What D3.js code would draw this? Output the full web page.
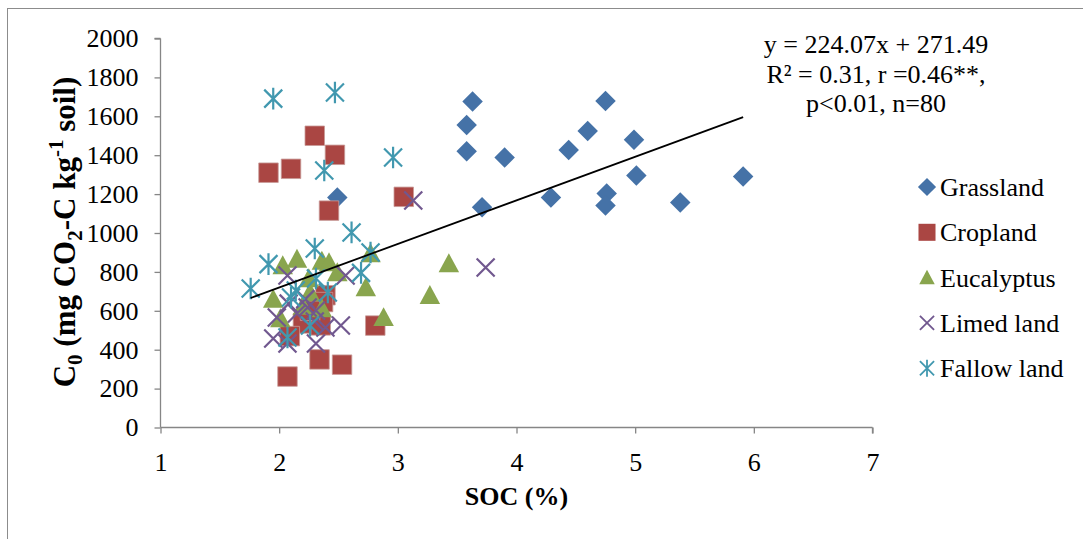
<!DOCTYPE html>
<html>
<head>
<meta charset="utf-8">
<script src="https://cdn.jsdelivr.net/npm/d3@7"></script>
<style>
  body { margin: 0; background: #fff; }
</style>
</head>
<body>
<svg id="chart" width="1083" height="539"></svg>
<script>
// data (SOC %, C0 mg CO2-C / kg soil)
var grassland = [
  [3.63, 1676], [3.58, 1555], [3.58, 1420], [3.90, 1388], [3.71, 1133], [2.49, 1182],
  [4.29, 1182], [4.44, 1427], [4.60, 1524], [4.75, 1679], [4.76, 1203], [4.75, 1141],
  [4.99, 1479], [5.01, 1296], [5.38, 1157], [5.91, 1290]
]
var cropland = [
  [1.91, 1310], [2.10, 1330], [2.30, 1500], [2.47, 1402], [2.42, 1115], [3.05, 1186],
  [2.81, 524], [2.07, 262], [2.34, 350], [2.53, 323], [2.39, 680], [2.20, 535],
  [2.35, 525], [2.09, 470], [2.37, 645], [2.26, 600]
]
var eucalyptus = [
  [2.03, 833], [2.15, 866], [2.36, 856], [2.42, 848], [2.49, 797], [2.77, 895],
  [2.73, 720], [2.88, 566], [1.95, 660], [2.25, 766], [2.26, 694], [2.36, 612],
  [2.01, 560], [3.27, 680], [3.43, 843], [2.20, 625]
]
var limed = [
  [3.13, 1167], [3.74, 823], [2.07, 781], [2.56, 781], [2.08, 637], [1.98, 566],
  [2.24, 617], [2.31, 602], [2.15, 586], [2.52, 524], [2.39, 514], [1.95, 458],
  [2.07, 432], [2.31, 432], [2.22, 660], [2.30, 545]
]
var fallow = [
  [1.95, 1691], [2.47, 1722], [2.96, 1388], [2.38, 1321], [2.61, 1003], [2.30, 920],
  [1.76, 715], [1.91, 840], [2.77, 900], [2.69, 795], [2.31, 766], [2.14, 704],
  [2.41, 694], [2.10, 668], [2.26, 524], [2.07, 463]
]
var seriesNames = ['Grassland', 'Cropland', 'Eucalyptus', 'Limed land', 'Fallow land']
var xTicks = [1, 2, 3, 4, 5, 6, 7]
var yTicks = [0, 200, 400, 600, 800, 1000, 1200, 1400, 1600, 1800, 2000]
var slope = 224.07
var intercept = 271.49
var eqLines = ['y = 224.07x + 271.49', 'R\u00b2 = 0.31, r =0.46**,', 'p<0.01, n=80']

var FONT = '"Liberation Serif", "Times New Roman", serif'
var svg = d3.select('#chart').style('font-family', FONT)
var axisColor = '#868686'

// outer frame
svg.append('rect')
  .attr('x', 7.5).attr('y', 8.5)
  .attr('width', 1090).attr('height', 540)
  .attr('fill', 'none')
  .attr('stroke', '#8c8c8c')
  .attr('stroke-width', 1)

var x = d3.scaleLinear().domain([1, 7]).range([160.5, 872.5])
var y = d3.scaleLinear().domain([0, 2000]).range([427.5, 38.5])

// axes
var xAxis = svg.append('g')
  .attr('transform', 'translate(0,' + y(0) + ')')
  .call(d3.axisBottom(x).tickValues(xTicks).tickSize(6).tickPadding(19).tickFormat(d3.format('d')))
var yAxis = svg.append('g')
  .attr('transform', 'translate(' + x(1) + ',0)')
  .call(d3.axisLeft(y).tickValues(yTicks).tickSize(6).tickPadding(16).tickFormat(d3.format('d')))

;[xAxis, yAxis].forEach(function(a) {
  a.attr('font-family', null).attr('font-size', null)
  a.select('.domain').attr('stroke', axisColor).attr('stroke-width', 1.3)
  a.selectAll('.tick line').attr('stroke', axisColor).attr('stroke-width', 1.3)
  a.selectAll('.tick text')
    .style('font-family', FONT)
    .style('font-size', '26px')
    .attr('fill', '#000')
})
// excel draws the axis line without end caps
xAxis.select('.domain').attr('d', 'M' + x(1) + ',0H' + x(7) + 'M' + x(7) + ',0V6')
yAxis.select('.domain').attr('d', 'M0,' + y(0) + 'V' + y(2000) + 'M0,' + y(2000) + 'H-6')

// axis titles
svg.append('text')
  .attr('x', x(4)).attr('y', 505)
  .attr('text-anchor', 'middle')
  .style('font-family', FONT)
  .style('font-size', '26px').style('font-weight', 'bold')
  .text('SOC (%)')

var yt = svg.append('text')
  .attr('transform', 'translate(75,' + 232 + ') rotate(-90)')
  .attr('text-anchor', 'middle')
  .style('font-family', FONT)
  .style('font-size', '31px').style('font-weight', 'bold')
yt.append('tspan').text('C')
yt.append('tspan').attr('dy', 7).style('font-size', '21px').text('0')
yt.append('tspan').attr('dy', -7).text(' (mg CO')
yt.append('tspan').attr('dy', 7).style('font-size', '21px').text('2')
yt.append('tspan').attr('dy', -7).text('-C kg')
yt.append('tspan').attr('dy', -12).style('font-size', '21px').text('-1')
yt.append('tspan').attr('dy', 12).text(' soil)')

// marker shapes
var diamond = {
  draw: function(ctx, size) {
    var r = Math.sqrt(size) / 2
    ctx.moveTo(0, -r); ctx.lineTo(r, 0); ctx.lineTo(0, r); ctx.lineTo(-r, 0); ctx.closePath()
  }
}
var square = {
  draw: function(ctx, size) {
    var r = Math.sqrt(size) / 2
    ctx.rect(-r, -r, 2 * r, 2 * r)
  }
}
var triangle = {
  draw: function(ctx, size) {
    var r = Math.sqrt(size) / 2
    ctx.moveTo(0, -r); ctx.lineTo(r, r * 0.85); ctx.lineTo(-r, r * 0.85); ctx.closePath()
  }
}
var cross = {
  draw: function(ctx, size) {
    var r = Math.sqrt(size) / 2
    ctx.moveTo(-r, -r); ctx.lineTo(r, r); ctx.moveTo(r, -r); ctx.lineTo(-r, r)
  }
}
var star = {
  draw: function(ctx, size) {
    var r = Math.sqrt(size) / 2
    ctx.moveTo(-r, -r); ctx.lineTo(r, r); ctx.moveTo(r, -r); ctx.lineTo(-r, r)
    ctx.moveTo(0, -r * 1.2); ctx.lineTo(0, r * 1.2)
  }
}

var series = [
  { name: seriesNames[0], data: grassland, type: diamond, size: 420, color: '#4572A7', filled: true },
  { name: seriesNames[1], data: cropland, type: square, size: 380, color: '#AA4643', filled: true },
  { name: seriesNames[2], data: eucalyptus, type: triangle, size: 420, color: '#89A54E', filled: true },
  { name: seriesNames[3], data: limed, type: cross, size: 324, color: '#71588F', filled: false },
  { name: seriesNames[4], data: fallow, type: star, size: 324, color: '#4198AF', filled: false }
]

function styleMarker(sel, s) {
  if (s.filled) {
    sel.attr('fill', s.color)
      .attr('stroke', s.type === square ? '#c89a98' : 'none')
      .attr('stroke-width', s.type === square ? 0.8 : 0)
  } else {
    sel.attr('fill', 'none').attr('stroke', s.color).attr('stroke-width', 2.2)
  }
}

var plot = svg.append('g')
series.forEach(function(s) {
  var g = plot.append('g').attr('class', 'series')
  g.selectAll('path')
    .data(s.data)
    .enter()
    .append('path')
    .attr('d', d3.symbol().type(s.type).size(s.size))
    .attr('transform', function(d) {
      return 'translate(' + x(d[0]) + ',' + y(d[1]) + ')'
    })
    .call(styleMarker, s)
})

// trend line over the data range
var allX = [].concat(grassland, cropland, eucalyptus, limed, fallow).map(function(d) { return d[0] })
var x0 = d3.min(allX)
var x1 = d3.max(allX)
svg.append('line')
  .attr('x1', x(x0)).attr('y1', y(slope * x0 + intercept))
  .attr('x2', x(x1)).attr('y2', y(slope * x1 + intercept))
  .attr('stroke', '#000')
  .attr('stroke-width', 1.8)

// equation
svg.append('g').selectAll('text')
  .data(eqLines)
  .enter()
  .append('text')
  .attr('x', 876)
  .attr('y', function(d, i) { return 53 + i * 29.5 })
  .attr('text-anchor', 'middle')
  .style('font-family', FONT)
  .style('font-size', '26px')
  .text(function(d) { return d })

// legend
var legend = svg.append('g')
var row = legend.selectAll('g')
  .data(series)
  .enter()
  .append('g')
  .attr('transform', function(d, i) { return 'translate(927,' + (187 + i * 45.3) + ')' })
row.append('path')
  .attr('d', function(s) {
    var sz = s.type === diamond ? 330 : s.type === square ? 290 : 240
    return d3.symbol().type(s.type).size(s.filled ? sz : 200)()
  })
  .each(function(s) {
    var p = d3.select(this)
    if (s.filled) p.attr('fill', s.color).attr('stroke', 'none')
    else p.attr('fill', 'none').attr('stroke', s.color).attr('stroke-width', 1.8)
  })
row.append('text')
  .attr('x', 13)
  .attr('y', 9)
  .style('font-family', FONT)
  .style('font-size', '26px')
  .text(function(s) { return s.name })
</script>
</body>
</html>
